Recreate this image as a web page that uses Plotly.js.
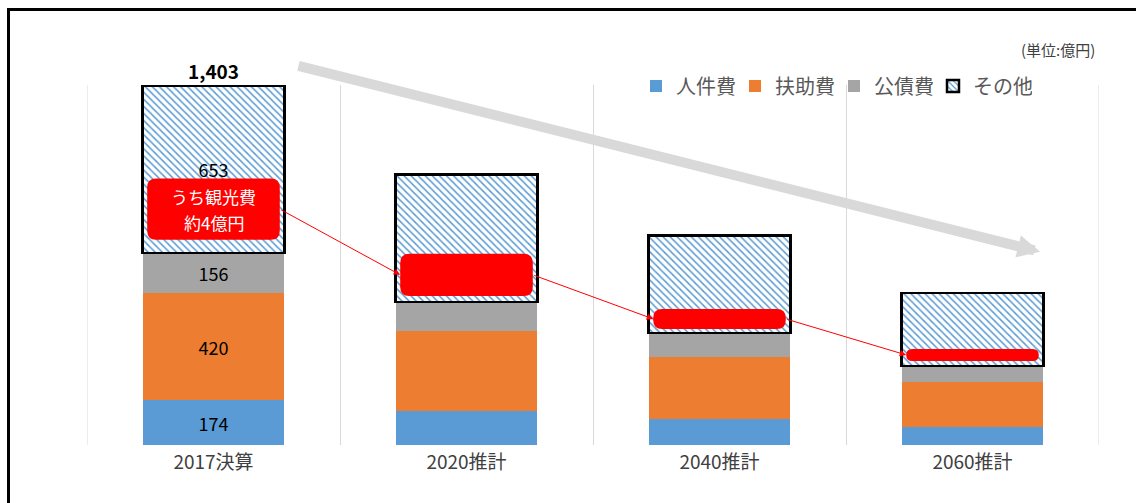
<!DOCTYPE html>
<html><head><meta charset="utf-8">
<script src="https://cdn.plot.ly/plotly-3.0.1.min.js"></script>
<style>html,body{margin:0;padding:0;overflow:hidden;background:#fff}#chart{width:1136px;height:503px}</style>
</head><body><div id="chart"></div>
<script>
// ---- data (億円) ----
const categories = ['2017決算', '2020推計', '2040推計', '2060推計'];
const personnel = [174, 133, 102, 70];   // 人件費
const welfare   = [420, 313, 242, 176];  // 扶助費
const debt      = [156, 113, 94, 63];    // 公債費
const other     = [653, 496, 379, 285];  // その他
const seriesNames = ['人件費', '扶助費', '公債費', 'その他'];
// うち観光費 (illustrative band inside その他)
const tourismLow  = [801, 582, 453, 328];
const tourismHigh = [1040, 746, 531, 375];
const tourismLines = ['うち観光費', '約4億円'];
const unitLabel = '(単位:億円)';

const FONT = '"Noto Sans CJK JP", "Noto Sans", sans-serif';
const xs = categories.map((c, i) => i);
const firstOnly = arr => arr.map((v, i) => i === 0 ? String(v) : '');
const totals = categories.map((c, i) => personnel[i] + welfare[i] + debt[i] + other[i]);

const Y_MAX = 1405;
const PLOT_W = 1136 - 87 - 37, PLOT_H = 503 - 85 - 58;
const pxY = PLOT_H / Y_MAX, pxX = PLOT_W / categories.length;

const common = {type: 'bar', x: xs, textposition: 'inside', insidetextanchor: 'middle',
  textfont: {size: 18, color: '#000', family: FONT}, textangle: 0, constraintext: 'none', hoverinfo: 'skip'};

const traces = [
  Object.assign({}, common, {name: seriesNames[0], y: personnel, text: firstOnly(personnel), marker: {color: '#5b9bd5'}}),
  Object.assign({}, common, {name: seriesNames[1], y: welfare, text: firstOnly(welfare), marker: {color: '#ed7d31'}}),
  Object.assign({}, common, {name: seriesNames[2], y: debt, text: firstOnly(debt), marker: {color: '#a5a5a5'}}),
  Object.assign({}, common, {name: seriesNames[3], y: other, text: firstOnly(other),
    marker: {color: '#ffffff', pattern: {shape: '\\', fgcolor: '#5b9bd5', bgcolor: '#ffffff', size: 5, solidity: 0.3},
             line: {color: '#000000', width: 2.5}}})
];

const shapes = [{
  type: 'rect', xref: 'paper', yref: 'paper',
  x0: (8.5 - 87) / PLOT_W, x1: 1.1, y0: -0.3, y1: (PLOT_H + 85 - 9.5) / PLOT_H,
  line: {color: '#000', width: 3}, fillcolor: 'rgba(0,0,0,0)', layer: 'below'
}];
// category-boundary grid lines at the two outer edges
[-0.5, categories.length - 0.5].forEach(b => shapes.push({type: 'line', xref: 'x', yref: 'paper', x0: b, x1: b, y0: 0, y1: 1,
  line: {color: '#d9d9d9', width: 1}, layer: 'below'}));
const HALF = 0.262;
categories.forEach((c, i) => {
  const x0 = i - HALF, x1 = i + HALF, y0 = tourismLow[i], y1 = tourismHigh[i];
  const r = Math.min(9, (y1 - y0) * pxY / 2);
  const rx = r / pxX, ry = r / pxY;
  const p = `M${x0 + rx},${y0} L${x1 - rx},${y0} Q${x1},${y0} ${x1},${y0 + ry} L${x1},${y1 - ry} Q${x1},${y1} ${x1 - rx},${y1} L${x0 + rx},${y1} Q${x0},${y1} ${x0},${y1 - ry} L${x0},${y0 + ry} Q${x0},${y0} ${x0 + rx},${y0} Z`;
  shapes.push({type: 'path', xref: 'x', yref: 'y', path: p, fillcolor: '#ff0000', line: {width: 0}, layer: 'above'});
});

const tourismMid0 = (tourismLow[0] + tourismHigh[0]) / 2;
const annotations = [
  {x: 0, y: totals[0], text: '<b>' + totals[0].toLocaleString('en-US') + '</b>', showarrow: false,
   yanchor: 'bottom', yshift: 0, font: {size: 19, color: '#000', family: FONT}},
  {x: 0, y: tourismMid0, yshift: 13, text: tourismLines[0], showarrow: false,
   font: {size: 17, color: '#fff', family: FONT}},
  {x: 0, y: tourismMid0, yshift: -13, text: tourismLines[1], showarrow: false,
   font: {size: 17, color: '#fff', family: FONT}},
  {xref: 'paper', yref: 'paper', x: (1097 - 87) / PLOT_W, y: (445 - 50) / PLOT_H, xanchor: 'right', yanchor: 'middle',
   text: unitLabel, showarrow: false, font: {size: 15, color: '#404040', family: FONT}},
  // big grey downward trend arrow
  {x: 3.267, y: 754, ax: 0.330, ay: 1481, axref: 'x', ayref: 'y', text: '', showarrow: true,
   arrowhead: 2, arrowsize: 0.45, arrowwidth: 10, arrowcolor: '#d9d9d9'}
];
for (let i = 0; i < categories.length - 1; i++) {
  annotations.push({x: i + 1 - HALF, y: (tourismLow[i + 1] + tourismHigh[i + 1]) / 2,
    ax: i + HALF, ay: (tourismLow[i] + tourismHigh[i]) / 2, axref: 'x', ayref: 'y', text: '',
    showarrow: true, arrowhead: 2, arrowsize: 1.3, arrowwidth: 1, arrowcolor: '#ff0000'});
}

const layout = {
  width: 1136, height: 503,
  margin: {l: 87, r: 37, t: 85, b: 58},
  paper_bgcolor: '#fff', plot_bgcolor: '#fff',
  font: {family: FONT, color: '#404040'},
  barmode: 'stack', bargap: 0.44,
  hovermode: false,
  showlegend: true,
  legend: {orientation: 'h', x: (636 - 87) / PLOT_W, xanchor: 'left', y: 0.997, yanchor: 'middle',
           font: {size: 20, color: '#595959', family: FONT}, traceorder: 'normal', itemwidth: 30,
           entrywidth: 54, entrywidthmode: 'pixels',
           bgcolor: 'rgba(0,0,0,0)'},
  xaxis: {range: [-0.5, categories.length - 0.5], tickmode: 'array', tickvals: xs, ticktext: categories,
          showgrid: false, zeroline: false, showline: false, ticks: '', ticklabelstandoff: 4,
          tickfont: {size: 19, color: '#404040', family: FONT},
          minor: {tick0: -0.5, dtick: 1, showgrid: true, gridcolor: '#d9d9d9', gridwidth: 1, ticks: ''},
          fixedrange: true},
  yaxis: {range: [0, Y_MAX], showgrid: false, zeroline: false, showticklabels: false, showline: false, ticks: '', fixedrange: true},
  shapes: shapes,
  annotations: annotations
};

Plotly.newPlot('chart', traces, layout, {staticPlot: true, displayModeBar: false});
</script>
</body></html>
